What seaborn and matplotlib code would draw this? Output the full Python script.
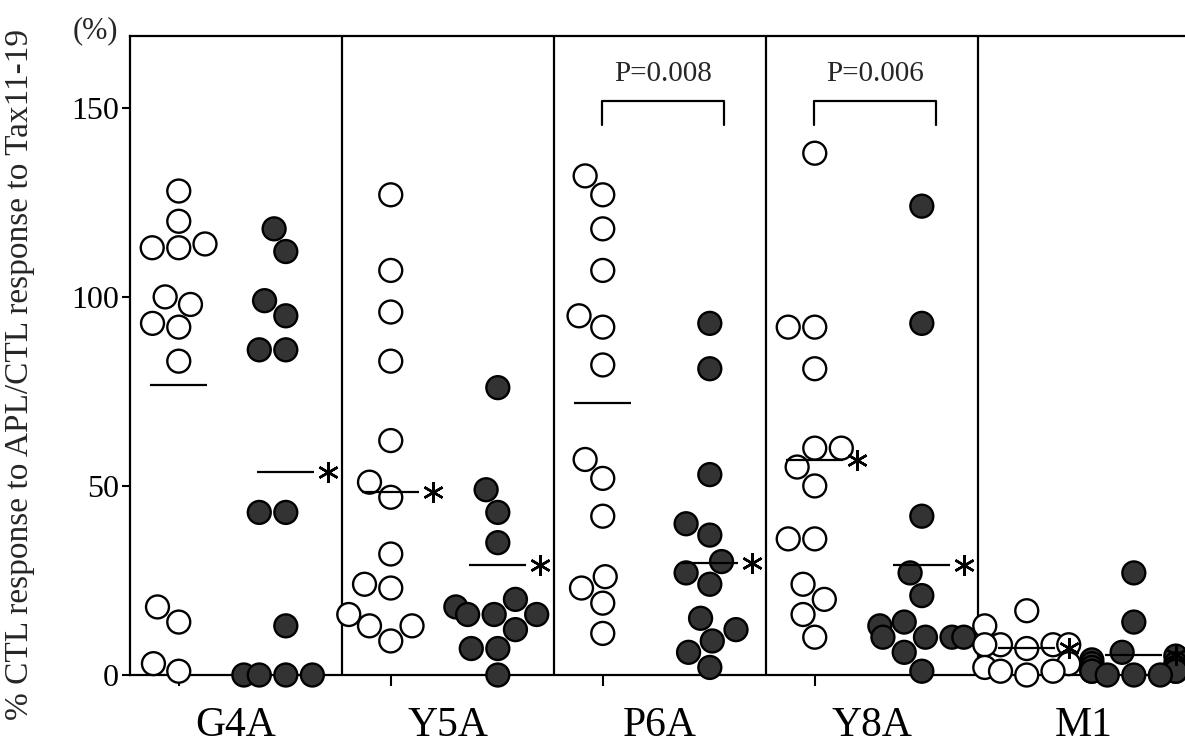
import numpy as np
import pandas as pd
import matplotlib
matplotlib.use("Agg")
import matplotlib.pyplot as plt
import seaborn as sns

# ---------------- data ----------------
peptides = ["G4A", "Y5A", "P6A", "Y8A", "M1"]

g4a_open = [128, 120, 114, 113, 113, 100, 98, 93, 92, 83, 18, 14, 3, 1]
g4a_filled = [118, 112, 99, 95, 86, 86, 43, 43, 13, 0, 0, 0, 0]
y5a_open = [127, 107, 96, 83, 62, 51, 47, 32, 24, 23, 16, 13, 13, 9]
y5a_filled = [76, 49, 43, 35, 20, 18, 16, 16, 16, 12, 7, 7, 0]
p6a_open = [132, 127, 118, 107, 95, 92, 82, 57, 52, 42, 26, 23, 19, 11]
p6a_filled = [93, 81, 53, 40, 37, 30, 27, 24, 15, 12, 9, 6, 2]
y8a_open = [138, 92, 92, 81, 60, 60, 55, 50, 36, 36, 24, 20, 16, 10]
y8a_filled = [124, 93, 42, 27, 21, 14, 13, 10, 10, 10, 10, 6, 1]
m1_open = [17, 13, 8, 8, 8, 8, 7, 3, 2, 1, 1, 0]
m1_filled = [27, 14, 6, 5, 4, 3, 3, 2, 2, 1, 1, 1, 1, 0, 0, 0]

open_means = [76.7, 48.4, 72.0, 56.9, 7.1]
filled_means = [53.7, 29.1, 29.6, 29.1, 5.3]
open_star = [False, True, False, True, True]
filled_star = [True, True, True, True, True]

p_peptides = ["P6A", "Y8A"]
p_labels = ["P=0.008", "P=0.006"]

y_ticks = [0, 50, 100, 150]
y_label = "% CTL response to APL/CTL response to Tax11-19"

# ---------------- build table ----------------
open_vals = [g4a_open, y5a_open, p6a_open, y8a_open, m1_open]
filled_vals = [g4a_filled, y5a_filled, p6a_filled, y8a_filled, m1_filled]

OPEN_OFF, FILLED_OFF = -0.27, 0.235
rows = []
for i in range(len(peptides)):
    for v in open_vals[i]:
        rows.append((i + OPEN_OFF, v, "open"))
    for v in filled_vals[i]:
        rows.append((i + FILLED_OFF, v, "filled"))
df = pd.DataFrame(rows, columns=["pos", "value", "group"])

# ---------------- style ----------------
sns.set_theme(style="white")
plt.rcParams["font.family"] = ["Liberation Serif", "DejaVu Serif"]

W, H = 1185, 744
fig = plt.figure(figsize=(W / 100, H / 100), dpi=100)
ax = fig.add_axes([130 / W, (H - 675) / H, 1060 / W, (675 - 36) / H])

sns.swarmplot(
    data=df, x="pos", y="value", hue="group", orient="x",
    palette={"open": "white", "filled": "#333333"},
    native_scale=True, size=16.5, edgecolor="black", linewidth=1.7,
    legend=False, warn_thresh=1.0, ax=ax, clip_on=False, zorder=3,
)

ax.set_xlim(-0.5, 4.5)
ax.set_ylim(0, 169)
ax.set_xlabel("")
ax.set_ylabel("")

for s in ["left", "bottom", "top"]:
    ax.spines[s].set_visible(True)
    ax.spines[s].set_color("black")
    ax.spines[s].set_linewidth(1.6)
ax.spines["right"].set_visible(False)

for b in np.arange(0.5, len(peptides) - 0.5, 1.0):
    ax.axvline(b, color="black", lw=1.6, zorder=2)

# mean lines and asterisks
idx = np.arange(len(peptides))
half = 0.135
for off, means, stars in [(OPEN_OFF, open_means, open_star),
                          (FILLED_OFF, filled_means, filled_star)]:
    xs = idx + off
    ax.hlines(means, xs - half, xs + half, color="black", lw=1.6, zorder=4)
    sx = [x + 0.2 for x, st in zip(xs, stars) if st]
    sy = [m for m, st in zip(means, stars) if st]
    ax.plot(sx, sy, ls="none", marker=(6, 2, 0), ms=15, mew=1.8,
            color="black", clip_on=False, zorder=5)

# p-value brackets
for pep, lab in zip(p_peptides, p_labels):
    i = peptides.index(pep)
    xl, xr = i - 0.275, i + 0.30
    ax.plot([xl, xl, xr, xr], [145.5, 151.7, 151.7, 145.5], color="black",
            lw=1.6, zorder=4)
    ax.text((xl + xr) / 2, 159, lab, ha="center", va="center", fontsize=21)

# ticks
ax.set_yticks(y_ticks)
ax.set_yticklabels([str(t) for t in y_ticks])
ax.tick_params(axis="y", which="major", left=True, direction="out",
               length=6, width=1.5, labelsize=23, pad=2, colors="black")
ax.set_xticks(idx)
ax.set_xticklabels(peptides)
ax.tick_params(axis="x", which="major", bottom=True, length=0,
               labelsize=30, pad=23, colors="black")
ax.set_xticks(idx + OPEN_OFF, minor=True)
ax.tick_params(axis="x", which="minor", bottom=True, direction="out",
               length=8, width=1.5, color="black")

fig.text(95 / W, 1 - 31 / H, "(%)", ha="center", va="center", fontsize=22)
fig.text(20 / W, 1 - 374 / H, y_label, rotation=90, ha="center",
         va="center", fontsize=24)

fig.savefig("out.png", dpi=100)
